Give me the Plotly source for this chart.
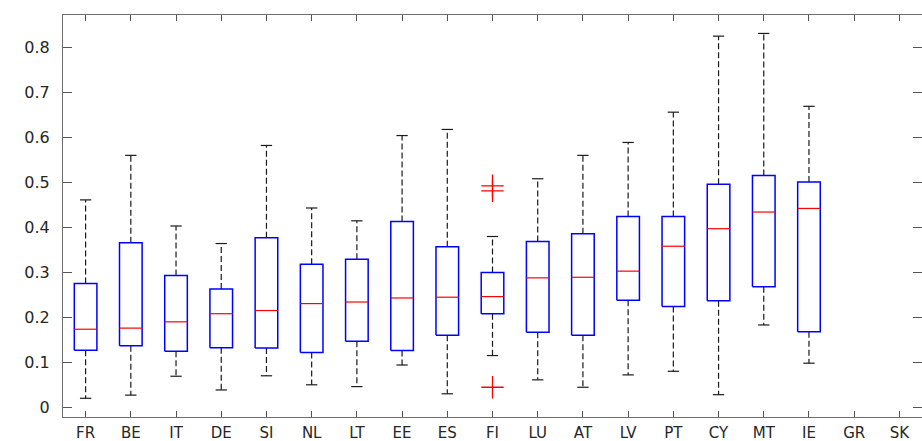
import plotly.graph_objects as go

countries = ["FR", "BE", "IT", "DE", "SI", "NL", "LT", "EE", "ES", "FI",
             "LU", "AT", "LV", "PT", "CY", "MT", "IE", "GR", "SK"]
lower_whisker = [0.020, 0.027, 0.069, 0.0385, 0.070, 0.050, 0.046, 0.094, 0.030, 0.115,
                 0.061, 0.0445, 0.072, 0.080, 0.028, 0.183, 0.098, None, None]
q1 = [0.127, 0.137, 0.1245, 0.1326, 0.132, 0.122, 0.147, 0.126, 0.160, 0.208,
      0.167, 0.160, 0.238, 0.224, 0.237, 0.268, 0.168, None, None]
median = [0.1735, 0.176, 0.190, 0.208, 0.215, 0.2305, 0.234, 0.243, 0.2447, 0.246,
          0.2877, 0.289, 0.3026, 0.358, 0.397, 0.434, 0.442, None, None]
q3 = [0.275, 0.366, 0.293, 0.263, 0.377, 0.318, 0.329, 0.413, 0.357, 0.2995,
      0.3685, 0.386, 0.424, 0.424, 0.496, 0.515, 0.501, None, None]
upper_whisker = [0.461, 0.560, 0.403, 0.364, 0.582, 0.443, 0.4145, 0.604, 0.6176, 0.3796,
                 0.508, 0.560, 0.5887, 0.656, 0.825, 0.831, 0.669, None, None]
outlier_country = ["FI", "FI", "FI"]
outlier_value = [0.4923, 0.4812, 0.0445]

y_tick_values = [0, 0.1, 0.2, 0.3, 0.4, 0.5, 0.6, 0.7, 0.8]
y_tick_labels = ["0", "0.1", "0.2", "0.3", "0.4", "0.5", "0.6", "0.7", "0.8"]

positions = list(range(1, len(countries) + 1))
half_box = 0.25
half_cap = 0.125

wx, wy, cx, cy, bx, by, mx, my = [], [], [], [], [], [], [], []
for p, lw, a, m, b, uw in zip(positions, lower_whisker, q1, median, q3, upper_whisker):
    if m is None:
        continue
    wx += [p, p, None, p, p, None]
    wy += [b, uw, None, a, lw, None]
    cx += [p - half_cap, p + half_cap, None, p - half_cap, p + half_cap, None]
    cy += [uw, uw, None, lw, lw, None]
    bx += [p - half_box, p + half_box, p + half_box, p - half_box, p - half_box, None]
    by += [a, a, b, b, a, None]
    mx += [p - half_box, p + half_box, None]
    my += [m, m, None]

ox = [positions[countries.index(c)] for c in outlier_country]

fig = go.Figure()
fig.add_trace(go.Scatter(x=wx, y=wy, mode="lines", hoverinfo="skip",
                         line=dict(color="#1a1a1a", width=1.2, dash="6px,3px")))
fig.add_trace(go.Scatter(x=cx, y=cy, mode="lines", hoverinfo="skip",
                         line=dict(color="#1a1a1a", width=1.2)))
fig.add_trace(go.Scatter(x=bx, y=by, mode="lines", hoverinfo="skip",
                         line=dict(color="#0000ff", width=1.5)))
fig.add_trace(go.Scatter(x=mx, y=my, mode="lines", hoverinfo="skip",
                         line=dict(color="#ff0000", width=1.2)))
fig.add_trace(go.Scatter(x=ox, y=outlier_value, mode="markers", hoverinfo="skip",
                         marker=dict(symbol="cross-thin", size=16,
                                     line=dict(color="#ff0000", width=1.3))))
# invisible trace to anchor the right-side tick axis
fig.add_trace(go.Scatter(x=[positions[0]], y=[y_tick_values[0]], yaxis="y2",
                         mode="markers", marker=dict(opacity=0), hoverinfo="skip"))

yfont = dict(family="DejaVu Sans", size=16, color="#262626")
xfont = dict(family="DejaVu Sans", size=15, color="#262626")
fig.update_layout(
    width=922, height=441,
    margin=dict(l=63, r=0, t=15, b=24),
    paper_bgcolor="white", plot_bgcolor="white",
    showlegend=False,
    font=yfont,
    xaxis=dict(range=[0.5, len(countries) + 0.5], tickmode="array",
               tickvals=positions, ticktext=countries,
               ticks="inside", ticklen=6, tickcolor="#555555", tickwidth=1,
               showline=True, linecolor="#6e6e6e", linewidth=1, mirror="ticks",
               showgrid=False, zeroline=False, tickfont=xfont,
               ticklabelstandoff=2),
    yaxis=dict(range=[-0.0216, 0.872], tickmode="array",
               tickvals=y_tick_values, ticktext=y_tick_labels,
               ticks="inside", ticklen=9, tickcolor="#555555", tickwidth=1,
               showline=True, linecolor="#6e6e6e", linewidth=1, mirror=False,
               showgrid=False, zeroline=False, tickfont=yfont,
               ticklabelstandoff=9),
    yaxis2=dict(overlaying="y", side="right", matches="y",
                range=[-0.0216, 0.872], tickmode="array",
                tickvals=y_tick_values, showticklabels=False,
                ticks="inside", ticklen=9, tickcolor="#555555", tickwidth=1,
                showline=False, showgrid=False, zeroline=False),
)

fig.write_html(
    "out.html",
    config={"displayModeBar": False, "staticPlot": True},
    post_script="document.documentElement.style.margin='0';"
                "document.body.style.margin='0';document.body.style.padding='0';"
                "document.body.style.overflow='hidden';",
)
